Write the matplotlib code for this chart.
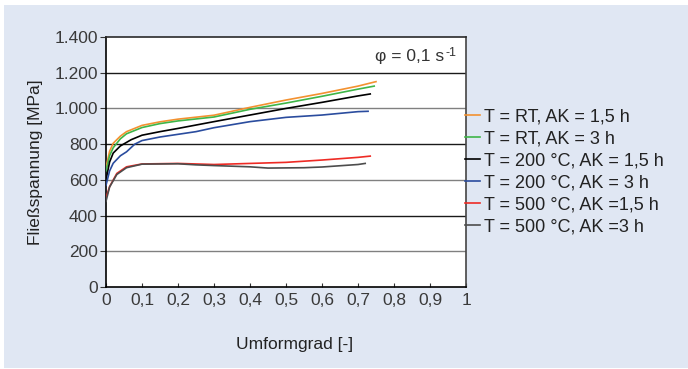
import matplotlib.pyplot as plt
from matplotlib.patches import Rectangle

plt.rcParams['font.family'] = ['Liberation Sans', 'DejaVu Sans']

# Flow curves (strain, flow stress in MPa)
strain_rt15 = [0.0, 0.01, 0.02, 0.04, 0.057, 0.1, 0.15, 0.2, 0.3, 0.4, 0.5, 0.6, 0.7, 0.75]
stress_rt15 = [670, 760, 805, 845, 870, 905, 925, 940, 962, 1006, 1047, 1084, 1125, 1150]

strain_rt3 = [0.0, 0.01, 0.02, 0.04, 0.057, 0.1, 0.15, 0.2, 0.3, 0.4, 0.5, 0.6, 0.7, 0.745]
stress_rt3 = [650, 735, 780, 830, 858, 893, 915, 930, 952, 995, 1030, 1068, 1108, 1125]

strain_200_15 = [0.0, 0.01, 0.02, 0.04, 0.07, 0.1, 0.15, 0.2, 0.3, 0.4, 0.5, 0.6, 0.7, 0.734]
stress_200_15 = [600, 700, 750, 790, 825, 850, 870, 888, 926, 963, 1000, 1034, 1070, 1081]

strain_200_3 = [0.0, 0.01, 0.02, 0.04, 0.057, 0.08, 0.1, 0.15, 0.2, 0.25, 0.3, 0.4, 0.5, 0.6, 0.7, 0.728]
stress_200_3 = [570, 650, 693, 735, 757, 800, 820, 840, 855, 870, 892, 926, 950, 963, 982, 984]

strain_500_15 = [0.0, 0.01, 0.03, 0.057, 0.1, 0.2, 0.3, 0.4, 0.5, 0.6, 0.7, 0.734]
stress_500_15 = [500, 562, 636, 673, 689, 692, 686, 692, 698, 711, 726, 733]

strain_500_3 = [0.0, 0.01, 0.03, 0.057, 0.1, 0.2, 0.25, 0.3, 0.4, 0.45, 0.5, 0.55, 0.6, 0.7, 0.72]
stress_500_3 = [480, 560, 630, 668, 688, 690, 684, 680, 673, 666, 667, 668, 672, 686, 692]

labels = ["T = RT, AK = 1,5 h", "T = RT, AK = 3 h", "T = 200 °C, AK = 1,5 h",
          "T = 200 °C, AK = 3 h", "T = 500 °C, AK =1,5 h", "T = 500 °C, AK =3 h"]
colors = ["#f39130", "#3fb548", "#000000", "#2a4c9e", "#ee2b25", "#4d4d4d"]

y_ticks = [0, 200, 400, 600, 800, 1000, 1200, 1400]
y_tick_labels = ["0", "200", "400", "600", "800", "1.000", "1.200", "1.400"]
x_ticks = [0, 0.1, 0.2, 0.3, 0.4, 0.5, 0.6, 0.7, 0.8, 0.9, 1.0]
x_tick_labels = ["0", "0,1", "0,2", "0,3", "0,4", "0,5", "0,6", "0,7", "0,8", "0,9", "1"]

fig = plt.figure(figsize=(6.88, 3.69), dpi=100)
fig.patch.set_facecolor("white")
fig.add_artist(Rectangle((4 / 688, 1 / 369), 684 / 688, 363 / 369,
                         transform=fig.transFigure, facecolor="#e0e7f3",
                         edgecolor="none", zorder=-10))

ax = fig.add_axes([106 / 688, 82 / 369, 360 / 688, 250 / 369])
ax.set_facecolor("white")

# gridlines alternate dark / grey like the original
for i, v in enumerate(y_ticks[1:-1]):
    ax.axhline(v, color="#1a1a1a" if i % 2 == 1 else "#808080", lw=1.0, zorder=1)

series = [(strain_rt15, stress_rt15), (strain_rt3, stress_rt3),
          (strain_200_15, stress_200_15), (strain_200_3, stress_200_3),
          (strain_500_15, stress_500_15), (strain_500_3, stress_500_3)]
for (x, y), lab, c in zip(series, labels, colors):
    ax.plot(x, y, color=c, lw=1.2, label=lab, zorder=3)

ax.set_xlim(0, 1)
ax.set_ylim(0, 1400)
ax.set_yticks(y_ticks)
ax.set_yticklabels(y_tick_labels)
ax.set_xticks(x_ticks)
ax.set_xticklabels(x_tick_labels)
ax.tick_params(axis="y", direction="out", length=4, width=0.8, labelsize=12.5, pad=2, colors="#333333")
ax.tick_params(axis="x", direction="in", length=3, width=0.8, labelsize=12.5, pad=4, colors="#333333")
for t in ax.get_xticklabels() + ax.get_yticklabels():
    t.set_color("#3a3a3a")

ax.spines["left"].set_color("#000000")
ax.spines["bottom"].set_color("#000000")
ax.spines["top"].set_color("#2a2a2a")
ax.spines["right"].set_color("#444444")
for s in ax.spines.values():
    s.set_linewidth(1.2)

ax.set_ylabel("Fließspannung [MPa]", fontsize=12.5, labelpad=8, color="#222222")
fig.text(295 / 688, 1 - 345 / 369, "Umformgrad [-]", fontsize=12.5,
         ha="center", va="center", color="#222222")

ax.text(0.94, 0.905, "φ = 0,1 s", transform=ax.transAxes, fontsize=12.5,
        ha="right", va="baseline", color="#333333")
ax.text(0.942, 0.925, "-1", transform=ax.transAxes, fontsize=9,
        ha="left", va="baseline", color="#333333")

leg = ax.legend(loc="upper left", bbox_to_anchor=(0.997, 0.714), frameon=False,
                fontsize=13, handlelength=0.85, handletextpad=0.2,
                labelspacing=0.28, borderaxespad=0, borderpad=0)
for t in leg.get_texts():
    t.set_color("#222222")

fig.savefig("out.png", dpi=100)
